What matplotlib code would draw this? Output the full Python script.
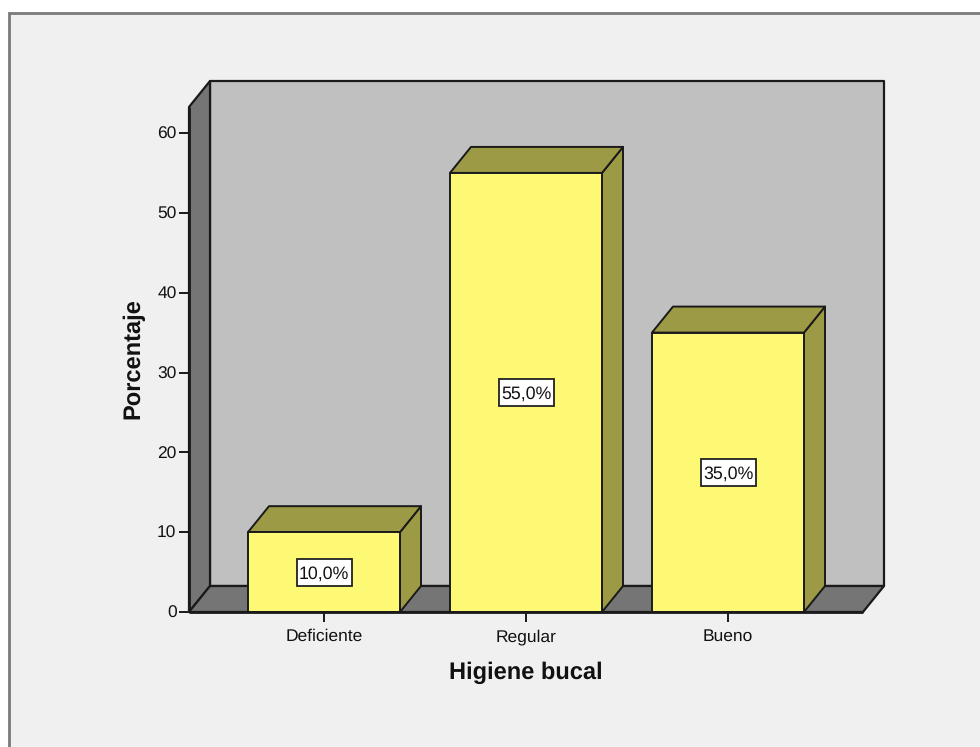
#!/usr/bin/env python3

import matplotlib
matplotlib.use('Agg')
import matplotlib.pyplot as plt
from matplotlib.patches import Polygon, Rectangle

categories = ['Deficiente', 'Regular', 'Bueno']
percentages = [10.0, 55.0, 35.0]
y_ticks = [0, 10, 20, 30, 40, 50, 60]

W, H = 980, 747
DARK = '#1a1a1a'

plt.rcParams['font.family'] = ['Liberation Sans', 'DejaVu Sans']
plt.rcParams['text.hinting'] = 'no_hinting'

fig = plt.figure(figsize=(W / 100, H / 100), dpi=100, facecolor='white')

# light panel with its grey frame on the top and left
fig.add_artist(Rectangle((9 / W, -0.05), 1, 1.05 - 12.5 / H, transform=fig.transFigure,
                         facecolor='#f0f0f0', edgecolor='#7a7a7a', linewidth=2.0,
                         zorder=-1))

# front plane of the 3D box
left, right, bottom, top = 189, 863, 612, 107
ax = fig.add_axes([left / W, 1 - bottom / H, (right - left) / W, (bottom - top) / H])
ax.patch.set_visible(False)
for s in ax.spines.values():
    s.set_visible(False)

unit_x = 202.0
unit_y = (612 - 133) / 60.0
ax.set_xlim((left - 324) / unit_x, (right - 324) / unit_x)
ax.set_ylim(0, (bottom - top) / unit_y)

# depth offset of the box, in data units
dx = 21 / unit_x
dy = 26 / unit_y
bar_w = 152 / unit_x
x0, x1 = ax.get_xlim()
y1 = ax.get_ylim()[1]


def face(pts, color, z=1, lw=1.6):
    ax.add_patch(Polygon(pts, closed=True, facecolor=color, edgecolor=DARK,
                         linewidth=lw, joinstyle='round', clip_on=False, zorder=z))


# back wall, side wall, floor
face([(x0 + dx, dy), (x1 + dx, dy), (x1 + dx, y1 + dy), (x0 + dx, y1 + dy)], '#c0c0c0')
face([(x0, 0), (x0 + dx, dy), (x0 + dx, y1 + dy), (x0, y1)], '#757575')
face([(x0, 0), (x1, 0), (x1 + dx, dy), (x0 + dx, dy)], '#757575')

# value label box size, in data units
box_w = 55 / unit_x
box_h = 27 / unit_y

for i, (cat, v) in enumerate(zip(categories, percentages)):
    l, r = i - bar_w / 2, i + bar_w / 2
    face([(r, 0), (r + dx, dy), (r + dx, v + dy), (r, v)], '#9c9a45', z=3, lw=1.4)
    face([(l, v), (r, v), (r + dx, v + dy), (l + dx, v + dy)], '#9c9a45', z=3, lw=1.4)
    face([(l, 0), (r, 0), (r, v), (l, v)], '#fdf975', z=4, lw=1.4)
    ax.add_patch(Rectangle((i - box_w / 2, v / 2 - box_h / 2), box_w, box_h,
                           facecolor='white', edgecolor='#222222', linewidth=1.3, zorder=5))
    ax.text(i, v / 2, f'{v:.1f}%'.replace('.', ','), ha='center', va='center_baseline',
            fontsize=12.8, color='#111111', zorder=6)

ax.plot([x0, x1], [0, 0], color=DARK, linewidth=2.0, clip_on=False, zorder=6,
        solid_capstyle='butt')
ax.plot([x0, x0], [0, y1], color=DARK, linewidth=2.0, clip_on=False, zorder=2,
        solid_capstyle='butt')

ax.set_xticks(range(len(categories)))
ax.set_xticklabels(categories, va='baseline')
ax.set_yticks(y_ticks)
ax.tick_params(axis='y', length=7, width=1.4, color=DARK, labelcolor='#111111',
               labelsize=12.5, pad=2)
ax.tick_params(axis='x', length=7, width=1.4, color=DARK, labelcolor='#111111',
               labelsize=12.5, pad=14)

fig.text(133 / W, 1 - 359 / H, 'Porcentaje', rotation=90, ha='center', va='center',
         fontsize=17, fontweight='bold', color='#111111')
fig.text(525.5 / W, 1 - 673 / H, 'Higiene bucal', ha='center', va='center',
         fontsize=17, fontweight='bold', color='#111111')

fig.savefig('out.png', dpi=100, facecolor=fig.get_facecolor())
